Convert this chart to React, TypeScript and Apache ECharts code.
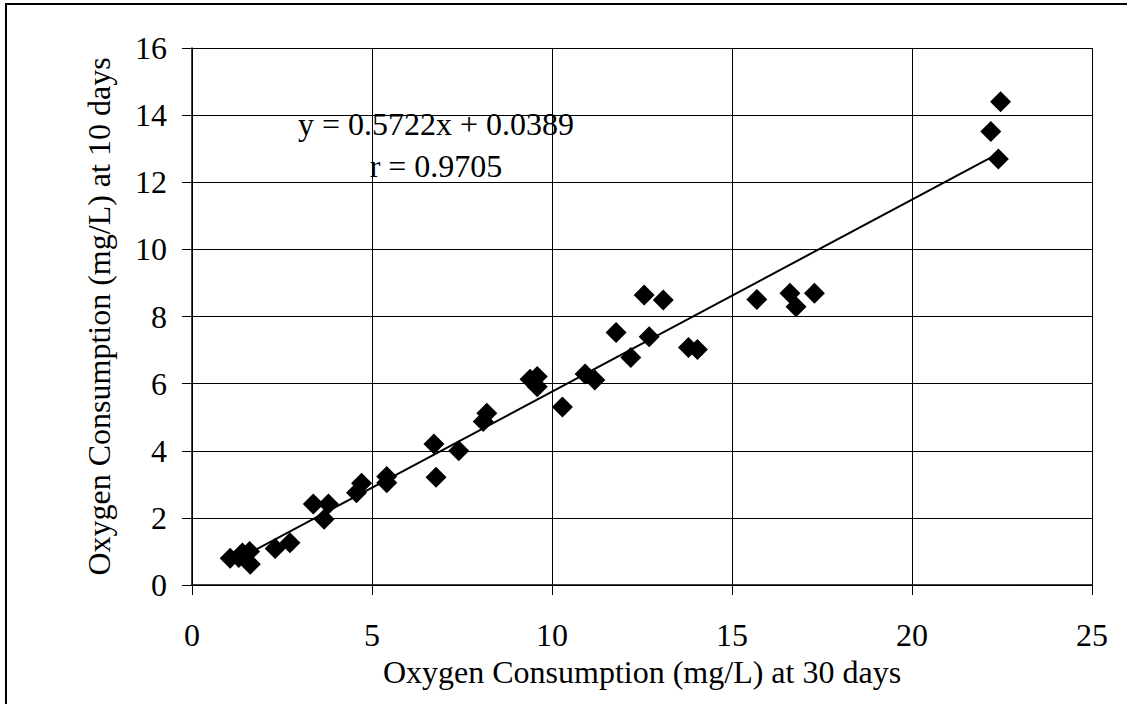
import React, { useEffect, useRef } from "react";
import * as echarts from "echarts";

const xValues30 = [
  1.06, 1.3, 1.4, 1.6, 1.62, 2.31, 2.72, 3.37, 3.79, 3.67, 4.57, 4.71, 5.41, 5.41,
  6.72, 6.78, 7.41, 8.09, 8.19, 9.39, 9.59, 9.59, 10.29, 10.92, 11.19, 11.78, 12.19,
  12.7, 12.56, 13.09, 13.79, 14.04, 15.69, 16.61, 16.78, 17.29, 22.46, 22.19, 22.4,
];
const yValues10 = [
  0.8, 0.82, 0.95, 1.0, 0.62, 1.09, 1.26, 2.41, 2.41, 1.96, 2.75, 3.03, 3.23, 3.05,
  4.2, 3.21, 4.0, 4.87, 5.12, 6.13, 6.21, 5.91, 5.3, 6.29, 6.11, 7.52, 6.78,
  7.4, 8.64, 8.49, 7.08, 7.02, 8.51, 8.69, 8.29, 8.69, 14.4, 13.51, 12.69,
];
const slope = 0.5722;
const intercept = 0.0389;
const equationText = "y = 0.5722x + 0.0389";
const rText = "r = 0.9705";
const xTitle = "Oxygen Consumption (mg/L) at 30 days";
const yTitle = "Oxygen Consumption (mg/L) at 10 days";

const FONT = "'Liberation Serif', 'Times New Roman', serif";

export default function App() {
  const ref = useRef<HTMLDivElement>(null);
  useEffect(() => {
    document.body.style.margin = "0";
    const chart = echarts.init(ref.current!, null, { renderer: "svg" });
    const points = xValues30.map((x, i) => [x, yValues10[i]]);
    const xmin = Math.min(...xValues30);
    const xmax = Math.max(...xValues30);
    const trend = [
      [xmin, slope * xmin + intercept],
      [xmax, slope * xmax + intercept],
    ];
    const axisText = { fontFamily: FONT, fontSize: 32, color: "#000" };
    chart.setOption({
      animation: false,
      backgroundColor: "#fff",
      grid: { left: 192, right: 35, top: 48, bottom: 119, containLabel: false },
      xAxis: {
        type: "value",
        min: 0,
        max: 25,
        interval: 5,
        name: xTitle,
        nameLocation: "middle",
        nameGap: 67,
        nameTextStyle: axisText,
        axisLine: { show: true, onZero: false, lineStyle: { color: "#000", width: 1.5 } },
        axisTick: { show: true, length: 10, lineStyle: { color: "#000" } },
        axisLabel: { ...axisText, margin: 34 },
        splitLine: { show: true, lineStyle: { color: "#000", width: 1 } },
      },
      yAxis: {
        type: "value",
        min: 0,
        max: 16,
        interval: 2,
        name: yTitle,
        nameLocation: "middle",
        nameGap: 77,
        nameTextStyle: axisText,
        axisLine: { show: true, onZero: false, lineStyle: { color: "#000", width: 1.5 } },
        axisTick: { show: true, length: 10, lineStyle: { color: "#000" } },
        axisLabel: { ...axisText, margin: 25 },
        splitLine: { show: true, lineStyle: { color: "#000", width: 1 } },
      },
      series: [
        {
          type: "line",
          data: trend,
          showSymbol: false,
          symbol: "none",
          lineStyle: { color: "#000", width: 2 },
          silent: true,
          z: 2,
        },
        {
          type: "scatter",
          data: points,
          symbol: "diamond",
          symbolSize: 21,
          itemStyle: { color: "#000", opacity: 1 },
          z: 3,
        },
      ],
      graphic: [
        {
          type: "rect",
          shape: { x: 6, y: 4, width: 1140, height: 720 },
          style: { fill: "none", stroke: "#000", lineWidth: 2 },
          silent: true,
        },
        {
          type: "rect",
          shape: { x: 291, y: 98, width: 290, height: 98 },
          style: { fill: "#fff", stroke: "none" },
          silent: true,
        },
        {
          type: "text",
          x: 436,
          y: 124,
          style: {
            text: equationText,
            fontFamily: FONT,
            fontSize: 32,
            fill: "#000",
            align: "center",
            verticalAlign: "middle",
          },
        },
        {
          type: "text",
          x: 436,
          y: 166,
          style: {
            text: rText,
            fontFamily: FONT,
            fontSize: 32,
            fill: "#000",
            align: "center",
            verticalAlign: "middle",
          },
        },
      ],
    });
    return () => chart.dispose();
  }, []);
  return (
    <div
      ref={ref}
      style={{ position: "absolute", left: 0, top: 0, width: 1127, height: 704 }}
    />
  );
}
